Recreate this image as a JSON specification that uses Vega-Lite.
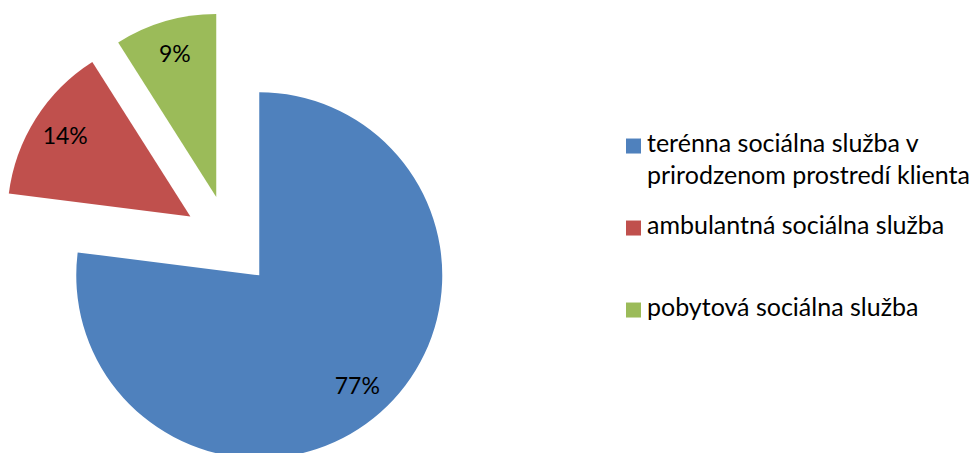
{
  "$schema": "https://vega.github.io/schema/vega-lite/v6.json",
  "width": 972,
  "height": 453,
  "autosize": "none",
  "padding": 0,
  "background": "white",
  "config": {"view": {"stroke": null}, "style": {"guide-label": {"lineHeight": 32}}},
  "data": {
    "values": [
      {"category": "terénna sociálna služba v prirodzenom prostredí klienta", "value": 77},
      {"category": "ambulantná sociálna služba", "value": 14},
      {"category": "pobytová sociálna služba", "value": 9}
    ]
  },
  "transform": [
    {"joinaggregate": [{"op": "sum", "field": "value", "as": "total"}]},
    {"window": [{"op": "sum", "field": "value", "as": "cum"}], "frame": [null, 0]},
    {"calculate": "2*PI*(datum.cum - datum.value)/datum.total", "as": "a0"},
    {"calculate": "2*PI*datum.cum/datum.total", "as": "a1"},
    {"calculate": "(datum.a0 + datum.a1)/2", "as": "mid"},
    {"calculate": "0.25*sin(datum.mid)", "as": "cx"},
    {"calculate": "0.25*cos(datum.mid)", "as": "cy"},
    {"calculate": "1.06*sin(datum.mid)", "as": "lx"},
    {"calculate": "1.06*cos(datum.mid)", "as": "ly"},
    {"calculate": "datum.value + '%'", "as": "pct"}
  ],
  "layer": [
    {
      "mark": {"type": "arc", "outerRadius": 183, "innerRadius": 0},
      "encoding": {
        "x": {"field": "cx", "type": "quantitative", "scale": {"domain": [-1.2514, 4.0601], "zero": false, "nice": false}, "axis": null},
        "y": {"field": "cy", "type": "quantitative", "scale": {"domain": [-1.1585, 1.3169], "zero": false, "nice": false}, "axis": null},
        "theta": {"field": "a0", "type": "quantitative", "scale": null, "stack": null},
        "theta2": {"field": "a1"},
        "color": {
          "field": "category",
          "type": "nominal",
          "scale": {
            "domain": ["terénna sociálna služba v prirodzenom prostredí klienta", "ambulantná sociálna služba", "pobytová sociálna služba"],
            "range": ["#4F81BD", "#C0504D", "#9BBB59"]
          },
          "legend": {
            "orient": "none",
            "legendX": 621,
            "legendY": 139,
            "title": null,
            "padding": 0,
            "symbolType": "M-1,-1.73H1V0.27H-1Z",
            "symbolSize": 225,
            "symbolStrokeWidth": 0,
            "labelFont": "Lato",
            "labelFontSize": 25,
            "labelColor": "black",
            "labelBaseline": "alphabetic",
            "labelOffset": 1,
            "labelLimit": 0,
            "gridAlign": "all",
            "rowPadding": 24,
            "labelExpr": "datum.label == 'terénna sociálna služba v prirodzenom prostredí klienta' ? ['terénna sociálna služba v', 'prirodzenom prostredí klienta'] : datum.label"
          }
        }
      }
    },
    {
      "mark": {"type": "text", "font": "Lato", "fontSize": 23, "color": "black"},
      "encoding": {
        "x": {"field": "lx", "type": "quantitative", "scale": {"domain": [-1.2514, 4.0601], "zero": false, "nice": false}, "axis": null},
        "y": {"field": "ly", "type": "quantitative", "scale": {"domain": [-1.1585, 1.3169], "zero": false, "nice": false}, "axis": null},
        "text": {"field": "pct"}
      }
    }
  ]
}
